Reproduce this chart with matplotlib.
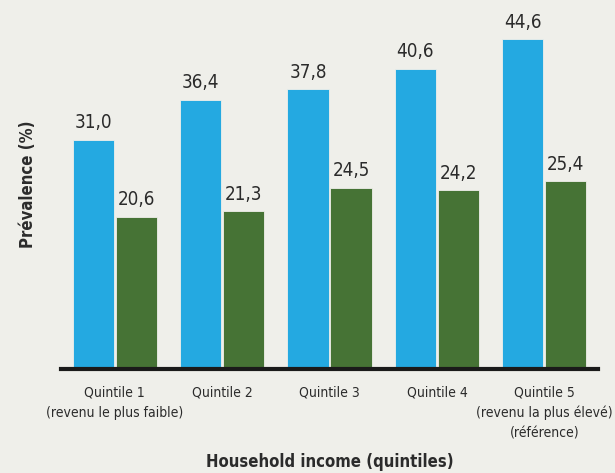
import matplotlib.pyplot as plt
import numpy as np

categories = ["Quintile 1\n(revenu le plus faible)", "Quintile 2", "Quintile 3", "Quintile 4",
              "Quintile 5\n(revenu la plus élevé)\n(référence)"]
blue_vals = [31.0, 36.4, 37.8, 40.6, 44.6]
green_vals = [20.6, 21.3, 24.5, 24.2, 25.4]

plt.rcParams['font.family'] = ['DejaVu Sans']
plt.rcParams['font.stretch'] = 'condensed'
bg = '#efefea'
txt = '#2b2b2b'

fig = plt.figure(figsize=(6.15, 4.73), dpi=100, facecolor=bg)
ax = fig.add_axes([61/615, 104/473, 537/615, 369/473], facecolor=bg)

x = np.arange(len(categories))
w = 0.385
b1 = ax.bar(x - 0.2, blue_vals, w, color='#24a9e1', edgecolor=bg, linewidth=0.6)
b2 = ax.bar(x + 0.2, green_vals, w, color='#467335', edgecolor=bg, linewidth=0.6)

for bars, vals in ((b1, blue_vals), (b2, green_vals)):
    for r, v in zip(bars, vals):
        ax.text(r.get_x() + r.get_width()/2, v + 1.0, f"{v:.1f}".replace('.', ','),
                ha='center', va='bottom', fontsize=13.5, color=txt)

ax.set_xlim(-0.5, 4.5)
ax.set_ylim(0, 49.9)
ax.set_yticks([])
ax.set_xticks(x)
ax.set_xticklabels(categories, fontsize=10, color=txt, linespacing=1.55)
ax.tick_params(axis='x', length=0, pad=12)
for s in ['top', 'right', 'left']:
    ax.spines[s].set_visible(False)
ax.spines['bottom'].set_linewidth(3)
ax.spines['bottom'].set_color('#1a1a1a')

ax.set_ylabel("Prévalence (%)", fontsize=12, fontweight='bold', color=txt, labelpad=17)
fig.text(330/615, 1 - 462/473, "Household income (quintiles)", ha='center', va='center',
         fontsize=12, fontweight='bold', color=txt)

fig.savefig('out.png', dpi=100, facecolor=bg)
